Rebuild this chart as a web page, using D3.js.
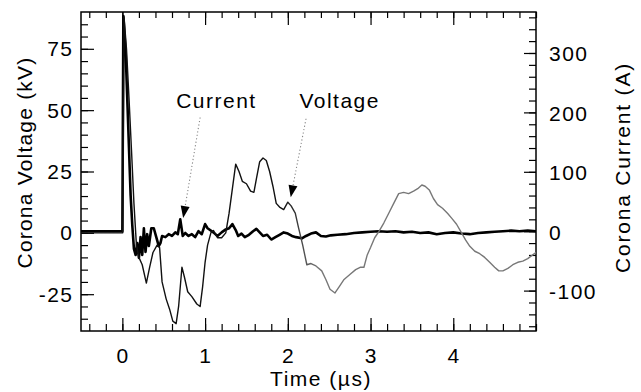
<!DOCTYPE html>
<html><head><meta charset="utf-8">
<script src="https://cdn.jsdelivr.net/npm/d3@7"></script>
<style>
html,body{margin:0;padding:0;background:#fff;}
svg{display:block;}
text{font-family:"Liberation Sans",Arial,Helvetica,sans-serif;fill:#000;}
</style></head>
<body>
<svg id="chart" width="641" height="392"></svg>
<script>
// ---- data ----
const timeTicks = [0, 1, 2, 3, 4];
const voltageTicks = [-25, 0, 25, 50, 75];
const currentTicks = [-100, 0, 100, 200, 300];

// Corona voltage (kV) vs time (µs)
const voltageT = [-0.5,-0.01,0.005,0.02,0.05,0.08,0.11,0.14,0.17,0.2,0.24,0.29,0.33,0.37,0.42,0.45,0.48,0.53,0.57,0.61,0.65,0.68,0.72,0.75,0.79,0.84,0.9,0.94,0.97,1.0,1.03,1.07,1.1,1.15,1.2,1.25,1.29,1.33,1.37,1.41,1.45,1.5,1.55,1.59,1.62,1.66,1.7,1.74,1.78,1.82,1.86,1.9,1.95,2.0,2.04,2.09,2.13,2.18,2.23,2.28,2.34,2.41,2.46,2.51,2.57,2.62,2.68,2.75,2.82,2.88,2.92,2.96,3.0,3.05,3.1,3.16,3.22,3.28,3.34,3.4,3.46,3.52,3.57,3.62,3.66,3.71,3.76,3.81,3.87,3.93,3.98,4.04,4.1,4.15,4.2,4.26,4.32,4.38,4.44,4.5,4.55,4.6,4.66,4.72,4.78,4.84,4.9,4.96,5.0];
const voltageV = [0,0,0,88,75,55,34,12,-5,-10,-13,-20.5,-14,-8,-5,-6,-20,-27,-31,-36,-37,-30,-14,-18,-24,-26,-29,-30,-22,-12,-5,0,1,-2,-2,0,8,18,28,25,21,20,17,16.5,22,29,30.5,29.5,25,19,12,10.5,9.5,12.5,11,8,2,-5,-13,-12.5,-13.5,-15.5,-19,-23,-24.5,-22,-19,-17,-15,-14,-14,-9,-6,-2,0.5,4,8,12,16,16.5,16,17,18,19.5,19,17.5,14,11.5,10,8,6,3.5,0,-3,-5.5,-7.5,-8.5,-10,-12,-14,-15.5,-15.5,-14.5,-13,-12,-11.5,-10.5,-9,-8];

// Corona current (A) vs time (µs)
const currentT = [-0.5,-0.005,0.0,0.012,0.04,0.07,0.1,0.12,0.14,0.16,0.18,0.2,0.22,0.24,0.26,0.28,0.3,0.32,0.35,0.38,0.41,0.44,0.46,0.48,0.52,0.56,0.6,0.64,0.67,0.7,0.73,0.76,0.8,0.84,0.88,0.92,0.96,1.0,1.03,1.06,1.1,1.15,1.2,1.25,1.29,1.33,1.37,1.4,1.44,1.48,1.53,1.58,1.62,1.66,1.7,1.75,1.8,1.85,1.9,1.95,2.0,2.05,2.1,2.17,2.22,2.28,2.34,2.4,2.46,2.52,2.6,2.7,2.8,2.9,3.0,3.1,3.2,3.3,3.4,3.5,3.6,3.7,3.8,3.9,4.0,4.1,4.2,4.3,4.4,4.5,4.6,4.7,4.8,4.9,5.0];
const currentA = [0,0,0,362,300,180,60,10,-30,-40,-20,-45,-10,-40,5,-35,-5,-25,5,5,-10,-25,-20,-8,-10,-5,-8,-2,-5,20,-8,-3,-8,-5,-10,0,-5,12,5,2,-2,-8,-2,3,5,12,2,-8,-4,-10,-6,0,4,-2,-8,-6,-14,-10,-6,-2,-4,-8,-10,-12,-8,-4,-2,-8,-9,-7,-6,-5,-3,-2,-1,0,-1,0,-2,-1,-3,-2,-5,-3,-2,-4,-5,-3,-2,-1,0,1,0,1,0];

// annotations (in time / voltage units)
const annotLabels = ["Current", "Voltage"];
const annotTextT = [0.65, 2.14];
const annotTextV = [51, 51];
const annotTailT = [0.94, 2.22];
const annotTailV = [47, 46.5];
const annotTipT = [0.735, 2.035];
const annotTipV = [6, 14.5];

// ---- layout ----
const svg = d3.select("#chart");
const L = 81, R = 536, T = 12, B = 331;
const x = d3.scaleLinear().domain([-0.5, 5]).range([L, R]);
const yV = d3.scaleLinear().domain([-40, 90]).range([B, T]);
const yI = d3.scaleLinear().domain([-168, 369]).range([B, T]);

const fontSize = 21, ls = 1.5;

// frame
svg.append("rect").attr("x", L).attr("y", T).attr("width", R - L).attr("height", B - T)
  .attr("fill", "none").attr("stroke", "#000").attr("stroke-width", 1.5);

// ticks helper
function tickLines(g, axis) { g.select(".domain").remove(); g.selectAll("line").attr("stroke", "#000").attr("stroke-width", 1.2); g.selectAll("text").remove(); }

const xMinor = d3.range(-0.4, 5.0001, 0.2).map(d => +d.toFixed(2));
// bottom
svg.append("g").attr("transform", `translate(0,${B})`).call(d3.axisTop(x).tickValues(xMinor).tickSize(7)).call(tickLines);
svg.append("g").attr("transform", `translate(0,${B})`).call(d3.axisTop(x).tickValues(timeTicks).tickSize(13)).call(tickLines);
// top
svg.append("g").attr("transform", `translate(0,${T})`).call(d3.axisBottom(x).tickValues(xMinor).tickSize(6)).call(tickLines);
svg.append("g").attr("transform", `translate(0,${T})`).call(d3.axisBottom(x).tickValues(timeTicks).tickSize(13)).call(tickLines);
// left
const vMinor = d3.range(-35, 90, 5);
svg.append("g").attr("transform", `translate(${L},0)`).call(d3.axisRight(yV).tickValues(vMinor).tickSize(7)).call(tickLines);
svg.append("g").attr("transform", `translate(${L},0)`).call(d3.axisRight(yV).tickValues(voltageTicks).tickSize(13)).call(tickLines);
// right
const iMinor = d3.range(-160, 369, 20);
svg.append("g").attr("transform", `translate(${R},0)`).call(d3.axisLeft(yI).tickValues(iMinor).tickSize(7)).call(tickLines);
svg.append("g").attr("transform", `translate(${R},0)`).call(d3.axisLeft(yI).tickValues(currentTicks).tickSize(12)).call(tickLines);

// tick labels
const lab = svg.append("g").attr("font-size", fontSize).attr("letter-spacing", ls);
lab.selectAll(".xl").data(timeTicks).join("text").attr("x", d => x(d) + ls / 2).attr("y", 363)
  .attr("text-anchor", "middle").text(d => d);
lab.selectAll(".vl").data(voltageTicks).join("text").attr("x", 73.5).attr("y", d => yV(d) + 7.5)
  .attr("text-anchor", "end").text(d => d);
lab.selectAll(".il").data(currentTicks).join("text").attr("x", 549).attr("y", d => yI(d) + 8.5)
  .attr("text-anchor", "start").text(d => d);

// axis titles
lab.append("text").attr("x", 321).attr("y", 386).attr("text-anchor", "middle").text("Time (µs)");
lab.append("text").attr("transform", "translate(31.5,162.5) rotate(-90)").attr("text-anchor", "middle")
  .attr("letter-spacing", 1.2).text("Corona Voltage (kV)");
lab.append("text").attr("transform", "translate(630,167.5) rotate(-90)").attr("text-anchor", "middle")
  .attr("letter-spacing", 1.8).text("Corona Current (A)");

// gradient for the thin voltage trace (dark then lighter, as scanned)
const defs = svg.append("defs");
const grad = defs.append("linearGradient").attr("id", "vgrad").attr("gradientUnits", "userSpaceOnUse")
  .attr("x1", x(1.95)).attr("x2", x(2.35)).attr("y1", 0).attr("y2", 0);
grad.append("stop").attr("offset", 0).attr("stop-color", "#111");
grad.append("stop").attr("offset", 1).attr("stop-color", "#777");

const clip = defs.append("clipPath").attr("id", "plotclip");
clip.append("rect").attr("x", L).attr("y", T).attr("width", R - L).attr("height", B - T);

const plot = svg.append("g").attr("clip-path", "url(#plotclip)");

const vData = voltageT.map((t, i) => [t, voltageV[i]]);
const iData = currentT.map((t, i) => [t, currentA[i]]);

plot.append("path").datum(iData)
  .attr("d", d3.line().x(d => x(d[0])).y(d => yI(d[1])))
  .attr("fill", "none").attr("stroke", "#000").attr("stroke-width", 2.6).attr("stroke-linejoin", "round");

plot.append("path").datum(vData)
  .attr("d", d3.line().x(d => x(d[0])).y(d => yV(d[1])))
  .attr("fill", "none").attr("stroke", "url(#vgrad)").attr("stroke-width", 1.4).attr("stroke-linejoin", "round");

// annotations
annotLabels.forEach((name, i) => {
  lab.append("text").attr("x", x(annotTextT[i])).attr("y", yV(annotTextV[i])).text(name);
  const x0 = x(annotTailT[i]), y0 = yV(annotTailV[i]);
  const x1 = x(annotTipT[i]), y1 = yV(annotTipV[i]);
  const ang = Math.atan2(y1 - y0, x1 - x0);
  const len = 12, half = 4.5;
  const bx = x1 - len * Math.cos(ang), by = y1 - len * Math.sin(ang);
  svg.append("line").attr("x1", x0).attr("y1", y0).attr("x2", bx).attr("y2", by)
    .attr("stroke", "#888").attr("stroke-width", 1.1).attr("stroke-dasharray", "1.2,2.3");
  const px = -Math.sin(ang), py = Math.cos(ang);
  svg.append("path")
    .attr("d", `M${x1},${y1}L${bx + px * half},${by + py * half}L${bx - px * half},${by - py * half}Z`)
    .attr("fill", "#000");
});
</script>
</body></html>
